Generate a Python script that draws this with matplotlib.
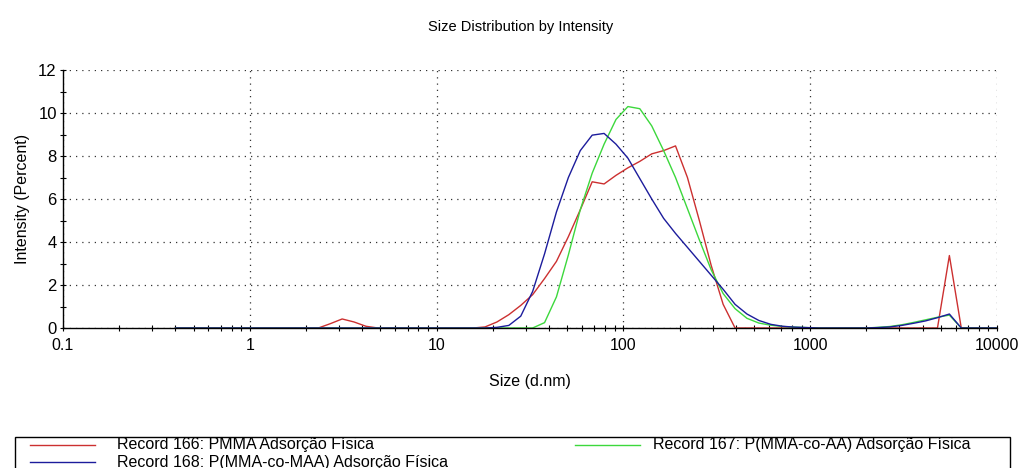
import matplotlib
matplotlib.use("Agg")
import matplotlib.pyplot as plt
from matplotlib.lines import Line2D
from matplotlib.patches import Rectangle
from matplotlib.ticker import FixedLocator, LogLocator, NullFormatter, FixedFormatter

plt.rcParams['font.family'] = ['Liberation Sans', 'DejaVu Sans']

# Size classes (d.nm)
sizes = [0.4, 0.4632, 0.5365, 0.6213, 0.7195, 0.8332, 0.9649, 1.117, 1.294, 1.499,
         1.736, 2.010, 2.328, 2.696, 3.122, 3.615, 4.187, 4.849, 5.615, 6.503,
         7.531, 8.721, 10.10, 11.70, 13.54, 15.69, 18.17, 21.04, 24.36, 28.21,
         32.67, 37.84, 43.82, 50.75, 58.77, 68.06, 78.82, 91.28, 105.7, 122.4,
         141.8, 164.2, 190.1, 220.2, 255.0, 295.3, 342.0, 396.1, 458.7, 531.2,
         615.1, 712.4, 825.0, 955.4, 1106, 1281, 1484, 1718, 1990, 2305,
         2669, 3091, 3580, 4145, 4801, 5560, 6439, 7456, 8635, 10000]

# Intensity (%) per size class
pmma = [0, 0, 0, 0, 0, 0, 0, 0, 0, 0,
        0, 0, 0, 0.2, 0.42, 0.28, 0.08, 0, 0, 0,
        0, 0, 0, 0, 0, 0, 0.05, 0.28, 0.62, 1.05,
        1.55, 2.3, 3.1, 4.25, 5.5, 6.8, 6.7, 7.1, 7.45, 7.75,
        8.1, 8.25, 8.47, 7.0, 5.0, 2.9, 1.1, 0, 0, 0,
        0, 0, 0, 0, 0, 0, 0, 0, 0, 0,
        0, 0, 0, 0, 0, 3.37, 0, 0, 0, 0]

p_mma_aa = [0, 0, 0, 0, 0, 0, 0, 0, 0, 0,
            0, 0, 0, 0, 0, 0, 0, 0, 0, 0,
            0, 0, 0, 0, 0, 0, 0, 0, 0, 0,
            0, 0.25, 1.45, 3.4, 5.5, 7.2, 8.55, 9.7, 10.3, 10.2,
            9.4, 8.25, 7.0, 5.55, 4.1, 2.7, 1.6, 0.9, 0.45, 0.23,
            0.13, 0.07, 0.04, 0.02, 0, 0, 0, 0, 0, 0.03,
            0.07, 0.15, 0.26, 0.38, 0.5, 0.6, 0, 0, 0, 0]

p_mma_maa = [0, 0, 0, 0, 0, 0, 0, 0, 0, 0,
             0, 0, 0, 0, 0, 0, 0, 0, 0, 0,
             0, 0, 0, 0, 0, 0, 0, 0.03, 0.12, 0.55,
             1.7, 3.45, 5.4, 7.0, 8.25, 8.97, 9.05, 8.55, 7.9, 6.95,
             6.0, 5.1, 4.4, 3.75, 3.1, 2.45, 1.8, 1.1, 0.65, 0.35,
             0.17, 0.08, 0.04, 0.02, 0, 0, 0, 0, 0, 0.02,
             0.05, 0.12, 0.22, 0.33, 0.48, 0.65, 0, 0, 0, 0]

labels = ["Record 166: PMMA Adsorção Física",
          "Record 167: P(MMA-co-AA) Adsorção Física",
          "Record 168: P(MMA-co-MAA) Adsorção Física"]
colors = ["#cc3030", "#3cd83c", "#1c1c9c"]

x_ticks = [0.1, 1, 10, 100, 1000, 10000]
x_ticklabels = ["0.1", "1", "10", "100", "1000", "10000"]
y_ticks = [0, 2, 4, 6, 8, 10, 12]

W, H = 1027, 468
fig = plt.figure(figsize=(W / 100, H / 100), dpi=100)
ax = fig.add_axes([63 / W, 1 - 328 / H, (997 - 63) / W, (328 - 70) / H])

series = [pmma, p_mma_aa, p_mma_maa]
for vals, c, lab in zip(series, colors, labels):
    ax.plot(sizes, vals, color=c, lw=1.0, label=lab)

ax.set_xscale("log")
ax.set_xlim(0.1, 10000)
ax.set_ylim(0, 12)

ax.xaxis.set_major_locator(FixedLocator(x_ticks))
ax.xaxis.set_major_formatter(FixedFormatter(x_ticklabels))
ax.xaxis.set_minor_locator(LogLocator(base=10, subs=range(2, 10), numticks=20))
ax.xaxis.set_minor_formatter(NullFormatter())
ax.yaxis.set_major_locator(FixedLocator(y_ticks))
ax.yaxis.set_minor_locator(FixedLocator(range(0, 13)))

for s in ("top", "right"):
    ax.spines[s].set_visible(False)
for s in ("left", "bottom"):
    ax.spines[s].set_linewidth(1.0)

ax.tick_params(which="both", direction="inout", length=5, width=0.8, colors="black")
ax.tick_params(axis="x", which="major", labelsize=11.5, pad=5)
ax.tick_params(axis="y", which="major", labelsize=12, pad=2)
ax.grid(True, which="major", linestyle=(0, (1, 4)), color="#333333", lw=0.9)
ax.set_axisbelow(True)

ax.set_xlabel("Size (d.nm)", fontsize=11.5, labelpad=15)
ax.set_ylabel("Intensity (Percent)", fontsize=11.5, labelpad=6)
fig.text(0.507, 1 - 27 / H, "Size Distribution by Intensity", ha="center", va="center",
         fontsize=10.5)

# Legend box along the bottom edge
fig.patches.append(Rectangle((15 / W, 1 - 490 / H), (1010 - 15) / W, 53 / H,
                             transform=fig.transFigure, fill=False, lw=1.0,
                             edgecolor="black"))
entries = [(30, 445, 0, 87), (575, 445, 1, 78), (30, 462, 2, 87)]
for x0, y0, k, gap in entries:
    fig.lines.append(Line2D([x0 / W, (x0 + 65) / W], [1 - y0 / H] * 2,
                            transform=fig.transFigure, color=colors[k], lw=1.0))
    fig.text((x0 + gap) / W, 1 - y0 / H, labels[k], ha="left", va="center", fontsize=11.5)

fig.savefig("out.png", dpi=100, facecolor="white")
